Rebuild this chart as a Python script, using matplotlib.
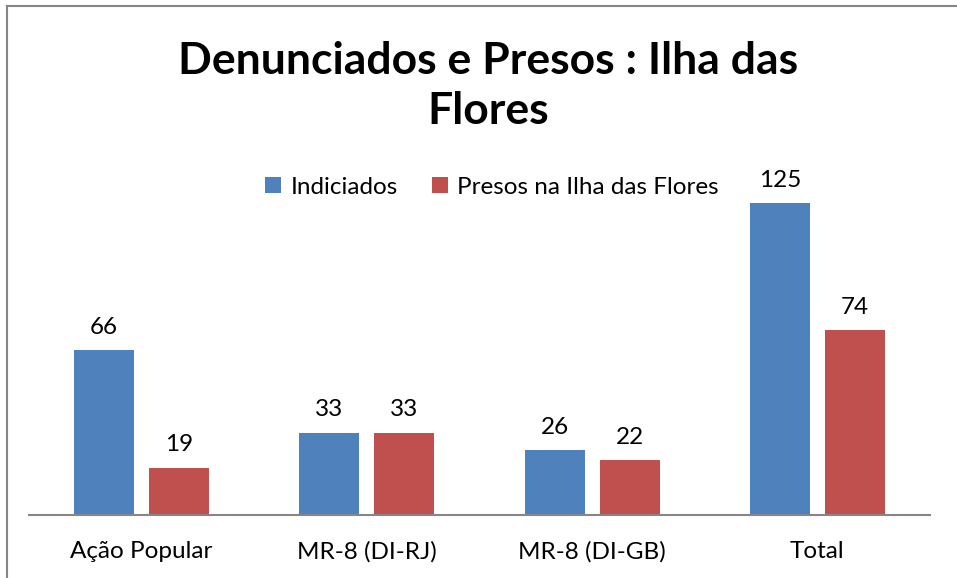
# encoding: utf-8

# Bar chart: denunciados e presos na Ilha das Flores.

import matplotlib.pyplot as plt
from matplotlib.lines import Line2D
import numpy as np

categories = ['Ação Popular', 'MR-8 (DI-RJ)', 'MR-8 (DI-GB)', 'Total']
indiciados = [66, 33, 26, 125]
presos = [19, 33, 22, 74]
series_names = ['Indiciados', 'Presos na Ilha das Flores']

BLUE = '#4F81BD'
RED = '#C0504D'
GRAY = '#868686'

plt.rcParams['font.family'] = ['Lato', 'DejaVu Sans']

W, H = 957, 578
fig = plt.figure(figsize=(W / 100, H / 100), dpi=100)

# axes placed in pixel units of the reference
left, right, base, top = 29, 930, 515, 165.6
ax = fig.add_axes([left / W, (H - base) / H, (right - left) / W, (base - top) / H])

x = np.arange(len(categories))
width = 0.267
off = 0.1667
b1 = ax.bar(x - off, indiciados, width, color=BLUE, label=series_names[0])
b2 = ax.bar(x + off, presos, width, color=RED, label=series_names[1])

ax.set_xlim(-0.5, len(categories) - 0.5)
ax.set_ylim(0, 140)
ax.set_xticks(x)
ax.set_xticklabels(categories, fontsize=17.5)
ax.tick_params(axis='x', length=0, pad=19)
ax.set_yticks([])
for s in ['top', 'right', 'left']:
    ax.spines[s].set_visible(False)
ax.spines['bottom'].set_color(GRAY)
ax.spines['bottom'].set_linewidth(1.5)

for bars in (b1, b2):
    for bar in bars:
        h = bar.get_height()
        ax.annotate(
            "{:d}".format(int(h)),
            (bar.get_x() + bar.get_width() / 2, h),
            textcoords="offset points",
            xytext=(0, 9),
            ha='center',
            va='bottom',
            fontsize=17.5,
            color='black'
        )

fig.legend(
    loc='center',
    bbox_to_anchor=(492 / W, 1 - 187 / H),
    ncol=2,
    frameon=False,
    fontsize=17.5,
    handlelength=0.65,
    handleheight=0.65,
    handletextpad=0.4,
    columnspacing=1.4,
)

fig.text(488 / W, 1 - 86 / H, 'Denunciados e Presos : Ilha das\nFlores',
         ha='center', va='center', fontsize=32, fontweight='bold',
         linespacing=1.32)

# chart frame (left and top edges)
fig.add_artist(Line2D([7.5 / W, 7.5 / W], [0, 1 - 6 / H], color=GRAY, lw=1.5))
fig.add_artist(Line2D([7.5 / W, 1], [1 - 6 / H, 1 - 6 / H], color=GRAY, lw=1.5))

fig.savefig('out.png', dpi=100)
